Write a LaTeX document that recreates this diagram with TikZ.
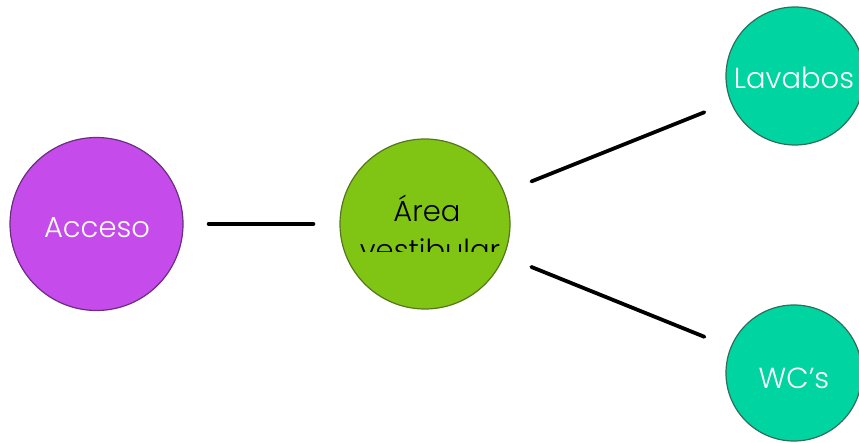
\documentclass[tikz,border=0pt]{standalone}
\usepackage{fontspec}
\setmainfont{Poppins Light}
\usetikzlibrary{positioning}
\definecolor{accesoc}{HTML}{C54BEA}
\definecolor{accesob}{HTML}{6B2D80}
\definecolor{areac}{HTML}{80C414}
\definecolor{areab}{HTML}{55761C}
\definecolor{banoc}{HTML}{00D4A0}
\definecolor{banob}{HTML}{2E6E5A}

\begin{document}
\begin{tikzpicture}[
    x=1pt,y=-1pt,
    room/.style={circle,draw=#1b,fill=#1c,line width=1.2pt,inner sep=0pt},
    lbl/.style={font=\fontsize{29}{35}\selectfont},
    link/.style={line width=3.8pt,line cap=round},
  ]
\useasboundingbox (0,0) rectangle (859,443);

% ======================= rooms =======================
\node[room=acceso,minimum size=173pt] (acceso) at (96.5,224) {};
\node[room=area,minimum size=170pt] (area) at (425,224) {};
\node[room=bano,minimum size=138pt] (lavabos) at (795,76) {};
\node[room=bano,minimum size=136pt] (wcs) at (794,373) {};

% labels
\node[lbl,white] (accesotxt) at (97,228) {Acceso};
\node[lbl,white] (lavabostxt) at (794,78) {Lavabos};
\node[lbl,white] (wcstxt) at (794,378) {WC’s};

% two-line label, cut off at the bottom
\begin{scope}
  \clip (330,190) rectangle (520,252);
  \node[lbl,anchor=base] (areatxt1) at (427,222) {Área};
  \node[lbl,anchor=base] (areatxt2) at (430,261) {vestibular};
\end{scope}

% ======================= links =======================
\draw[link,shorten <=25pt,shorten >=26pt] (acceso) -- (area);
\draw[link,shorten <=29pt,shorten >=28pt] (area) -- (lavabos);
\draw[link,shorten <=29pt,shorten >=28pt] (area) -- (wcs);

\end{tikzpicture}
\end{document}
